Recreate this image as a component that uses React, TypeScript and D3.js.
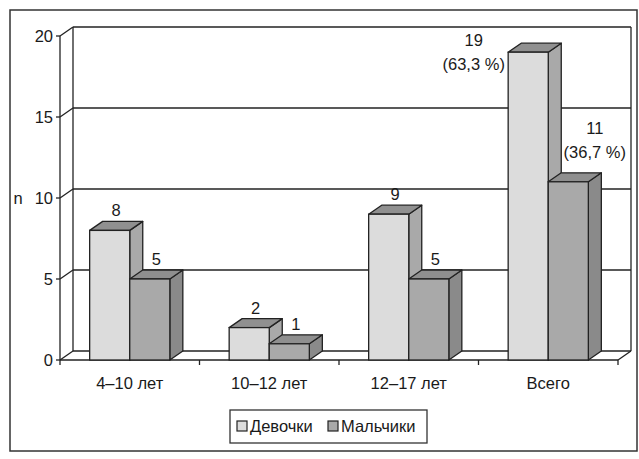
import React from "react";
import * as d3 from "d3";

const categories = ["4–10 лет", "10–12 лет", "12–17 лет", "Всего"];
const series = ["Девочки", "Мальчики"];
const girls = [8, 2, 9, 19];
const boys = [5, 1, 5, 11];
const girlsPct = ["", "", "", "(63,3 %)"];
const boysPct = ["", "", "", "(36,7 %)"];
const yTicks = [0, 5, 10, 15, 20];

const W = 639;
const H = 459;
const DX = 13;
const DY = 9;
const FONT = "'Liberation Sans', Arial, sans-serif";
const FS = 16.5;

const colors = {
  "Девочки": { front: "#dcdcdc", side: "#a9a9a9", top: "#909090" },
  "Мальчики": { front: "#a9a9a9", side: "#8a8a8a", top: "#8f8f8f" },
};

const App = () => {
  const x = d3.scaleBand().domain(categories).range([60, 618]);
  const xs = d3
    .scaleBand()
    .domain(series)
    .range([0, x.bandwidth()])
    .paddingInner(0)
    .paddingOuter(0.74);
  const y = d3.scaleLinear().domain([0, 20]).range([360, 36]);
  const stroke = "#222";
  const sw = 1.3;

  const values = { "Девочки": girls, "Мальчики": boys };
  const pcts = { "Девочки": girlsPct, "Мальчики": boysPct };

  const bar = (cat, s, i) => {
    const v = values[s][i];
    const x0 = x(cat) + xs(s);
    const x1 = x0 + xs.bandwidth();
    const y0 = y(0);
    const y1 = y(v);
    const c = colors[s];
    return (
      <g key={cat + s}>
        <polygon
          points={`${x1},${y1} ${x1 + DX},${y1 - DY} ${x1 + DX},${y0 - DY} ${x1},${y0}`}
          fill={c.side}
          stroke={stroke}
          strokeWidth={sw}
          strokeLinejoin="round"
        />
        <polygon
          points={`${x0},${y1} ${x0 + DX},${y1 - DY} ${x1 + DX},${y1 - DY} ${x1},${y1}`}
          fill={c.top}
          stroke={stroke}
          strokeWidth={sw}
          strokeLinejoin="round"
        />
        <rect x={x0} y={y1} width={x1 - x0} height={y0 - y1} fill={c.front} stroke={stroke} strokeWidth={sw} />
      </g>
    );
  };

  const label = (cat, s, i) => {
    const v = values[s][i];
    const p = pcts[s][i];
    const cx = x(cat) + xs(s) + xs.bandwidth() / 2 + DX / 2;
    const top = y(v) - DY;
    if (!p) {
      return (
        <text key={"l" + cat + s} x={cx} y={top - 5} textAnchor="middle" fontSize={FS}>
          {v}
        </text>
      );
    }
    // Всего: labels sit beside the bars
    const lx = s === "Девочки" ? cx - 61 : cx + 20;
    const ly = s === "Девочки" ? top + 3 : top - 39;
    return (
      <text key={"l" + cat + s} textAnchor="middle" fontSize={FS}>
        <tspan x={lx} y={ly}>{v}</tspan>
        <tspan x={lx} y={ly + 24}>{p}</tspan>
      </text>
    );
  };

  const backL = 60 + DX;
  const backR = 618 + DX;

  return (
    <svg width={W} height={H} style={{ position: "absolute", left: 0, top: 0, fontFamily: FONT }} fill="#1a1a1a">
      <rect x={0} y={0} width={W} height={H} fill="#fff" />
      <rect x={10} y={10} width={627} height={441} fill="#fff" stroke="#333" strokeWidth={1.5} />

      {/* back wall */}
      <line x1={backL} x2={backL} y1={y(20) - DY} y2={y(0) - DY} stroke={stroke} strokeWidth={sw} />
      <line x1={backR} x2={backR} y1={y(20) - DY} y2={y(0) - DY} stroke={stroke} strokeWidth={sw} />
      {yTicks.map((t) => (
        <g key={"g" + t}>
          <line x1={backL} x2={backR} y1={y(t) - DY} y2={y(t) - DY} stroke={stroke} strokeWidth={sw} />
          <line x1={60} x2={backL} y1={y(t)} y2={y(t) - DY} stroke={stroke} strokeWidth={sw} />
        </g>
      ))}
      {/* floor */}
      <line x1={618} x2={backR} y1={y(0)} y2={y(0) - DY} stroke={stroke} strokeWidth={sw} />

      {/* y axis */}
      <line x1={60} x2={60} y1={y(20)} y2={y(0)} stroke={stroke} strokeWidth={sw} />
      {yTicks.map((t) => (
        <g key={"t" + t}>
          <line x1={56} x2={60} y1={y(t)} y2={y(t)} stroke={stroke} strokeWidth={sw} />
          <text x={53} y={y(t) + 6} textAnchor="end" fontSize={FS}>
            {t}
          </text>
        </g>
      ))}
      <text x={18} y={204} textAnchor="middle" fontSize={FS}>
        n
      </text>

      {/* x axis */}
      <line x1={60} x2={618} y1={y(0)} y2={y(0)} stroke={stroke} strokeWidth={sw} />
      {[...categories.map((c) => x(c)), 618].map((t, i) => (
        <line key={"xt" + i} x1={t} x2={t} y1={y(0)} y2={y(0) + 5} stroke={stroke} strokeWidth={sw} />
      ))}
      {categories.map((c) => (
        <text key={"xl" + c} x={x(c) + x.bandwidth() / 2} y={389} textAnchor="middle" fontSize={FS}>
          {c}
        </text>
      ))}

      {categories.map((c, i) => series.map((s) => bar(c, s, i)))}
      {categories.map((c, i) => series.map((s) => label(c, s, i)))}

      {/* legend */}
      <rect x={230} y={410} width={197} height={33} fill="#fff" stroke="#333" strokeWidth={1.3} />
      {series.map((s, i) => {
        const lx = i === 0 ? 237 : 328;
        return (
          <g key={"lg" + s}>
            <rect x={lx} y={421} width={10} height={10} fill={colors[s].front} stroke={stroke} strokeWidth={1.2} />
            <text x={lx + 13} y={432} fontSize={FS}>
              {s}
            </text>
          </g>
        );
      })}
    </svg>
  );
};

export default App;
